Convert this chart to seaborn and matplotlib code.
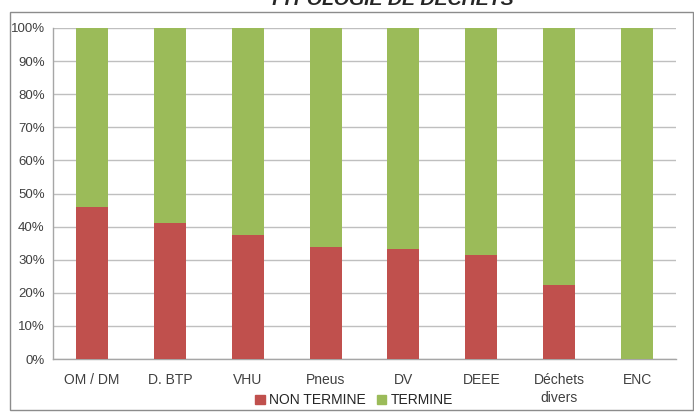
import pandas as pd
import seaborn as sns
import matplotlib.pyplot as plt
from matplotlib.patches import Patch, Rectangle
from matplotlib.ticker import PercentFormatter

categories = ['OM / DM', 'D. BTP', 'VHU', 'Pneus', 'DV', 'DEEE', 'Déchets\ndivers', 'ENC']
non_termine = [45.8, 41.0, 37.4, 33.9, 33.2, 31.4, 22.5, 0.0]
termine = [100 - v for v in non_termine]

RED = '#C0504D'
GREEN = '#9BBB59'


def main():
	sns.set_style('white')
	plt.rcParams['font.family'] = ['Liberation Sans Narrow', 'Liberation Sans', 'DejaVu Sans']

	df = pd.DataFrame({'cat': categories, 'non': non_termine, 'ter': termine})
	df['total'] = df['non'] + df['ter']

	fig = plt.figure(figsize=(6.94, 4.17), dpi=100)
	ax = fig.add_axes([53 / 694, 1 - 359 / 417, 623 / 694, 331 / 417])

	# stacked bars: total (green) then the red part on top of it
	sns.barplot(data=df, x='cat', y='total', color=GREEN, width=0.41, saturation=1, ax=ax,
				zorder=3, linewidth=0)
	sns.barplot(data=df, x='cat', y='non', color=RED, width=0.41, saturation=1, ax=ax,
				zorder=4, linewidth=0)

	ax.set_ylim(0, 100)
	ax.set_xlim(-0.5, len(categories) - 0.5)
	ax.set_yticks(range(0, 101, 10))
	ax.yaxis.set_major_formatter(PercentFormatter(decimals=0))
	ax.yaxis.grid(True, color='#BFBFBF', linewidth=1, zorder=0)
	ax.set_xlabel('')
	ax.set_ylabel('')

	for s in ['top', 'right']:
		ax.spines[s].set_visible(False)
	for s in ['left', 'bottom']:
		ax.spines[s].set_color('#A6A6A6')
		ax.spines[s].set_linewidth(1)

	ax.set_xticks([i + 0.5 for i in range(-1, len(categories))], minor=True)
	ax.tick_params(axis='x', which='major', length=0, labelsize=10, colors='#404040', pad=10)
	ax.tick_params(axis='x', which='minor', length=5, color='#A6A6A6', direction='out')
	ax.tick_params(axis='y', length=4, color='#A6A6A6', direction='out', labelsize=9.5, colors='#404040', pad=2)
	for lbl in ax.get_xticklabels():
		lbl.set_color('#404040')
		lbl.set_linespacing(1.35)

	handles = [Patch(color=RED, label='NON TERMINE'), Patch(color=GREEN, label='TERMINE')]
	fig.legend(handles=handles, loc='center', bbox_to_anchor=(0.51, 0.04), ncol=2, frameon=False,
			   handlelength=0.7, handleheight=0.7, handletextpad=0.3, columnspacing=0.8,
			   prop={'size': 10})

	# chart frame
	fig.patches.append(Rectangle((10 / 694, 1 - 410 / 417), 683 / 694, 398 / 417,
								 transform=fig.transFigure, fill=False, edgecolor='#8C8C8C', linewidth=1))

	fig.text(391 / 694, 1 - 5 / 417, 'TYPOLOGIE DE DECHETS', ha='center', va='baseline',
			 fontsize=14, fontweight='bold', fontstyle='italic', family=['Liberation Sans', 'DejaVu Sans'])

	fig.savefig('out.png', dpi=100)


if __name__ == '__main__':
	main()
